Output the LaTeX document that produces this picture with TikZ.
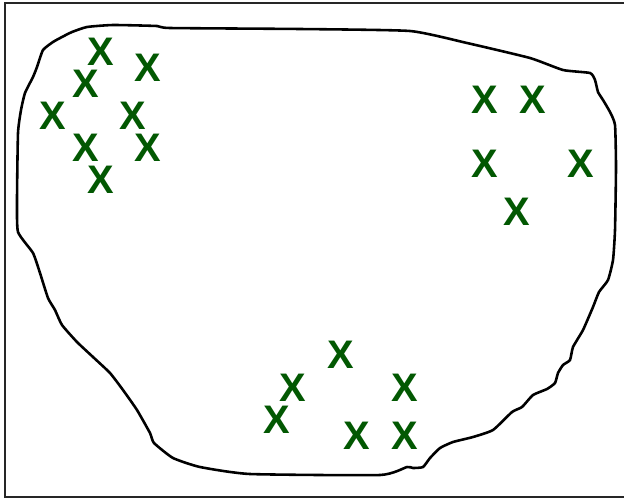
\documentclass[tikz,border=0pt]{standalone}
\usepackage{fontspec}
\setmainfont{Liberation Sans}
\usepackage{tikz}
\definecolor{ptgreen}{HTML}{025802}

\begin{document}
\begin{tikzpicture}[
  x=0.03cm, y=-0.03cm,
  pt/.style={text=ptgreen, inner sep=0pt,
             font=\fontsize{34}{34}\selectfont\bfseries},
  frame/.style={line width=1.8pt, black!85},
  blob/.style={line width=2.2pt, black, line join=round}
]
\useasboundingbox (0,0) rectangle (624,499);

% --- frame, open on the right ---
\draw[frame] (624,3) -- (5,3) -- (5,497) -- (624,497);

% --- outline of the region ---
\draw[blob] plot[smooth cycle, tension=0.3] coordinates {
  (18,232) (17,200) (18,133) (21,110) (25,93) (33,77) (37,67) (43,50)
  (53,42) (62,37) (72,32) (87,27) (113,25) (157,26) (170,28) (300,29)
  (410,31) (467,43) (530,58) (563,70) (590,73) (595,80) (598,92)
  (603,100) (610,112) (615,125) (616,167) (615,230) (613,260) (608,280)
  (599,292) (593,307) (583,330) (573,347) (570,360) (563,365) (558,373)
  (555,383) (547,389) (533,395) (522,407) (512,412) (493,430) (473,437)
  (453,442) (440,448) (430,458) (423,467) (413,468) (407,467) (380,475)
  (250,474) (200,467) (173,458) (154,443) (150,433) (137,410) (123,390)
  (110,373) (93,357) (77,342) (62,325) (55,310) (48,298) (40,273)
  (33,253)};

% --- cluster top left ---
\foreach \n/\px/\py in {a1/101/52, a2/148/68, a3/86/84, a4/53/116,
                        a5/133/116, a6/86/148, a7/148/148, a8/101/180}
  \node[pt] (\n) at (\px,\py) {X};

% --- cluster top right ---
\foreach \n/\px/\py in {b1/485/100, b2/533/100, b3/485/164,
                        b4/581/164, b5/517/212}
  \node[pt] (\n) at (\px,\py) {X};

% --- cluster bottom ---
\foreach \n/\px/\py in {c1/341/355, c2/293/388, c3/405/388,
                        c4/277/420, c5/357/436, c6/405/436}
  \node[pt] (\n) at (\px,\py) {X};
\end{tikzpicture}
\end{document}
